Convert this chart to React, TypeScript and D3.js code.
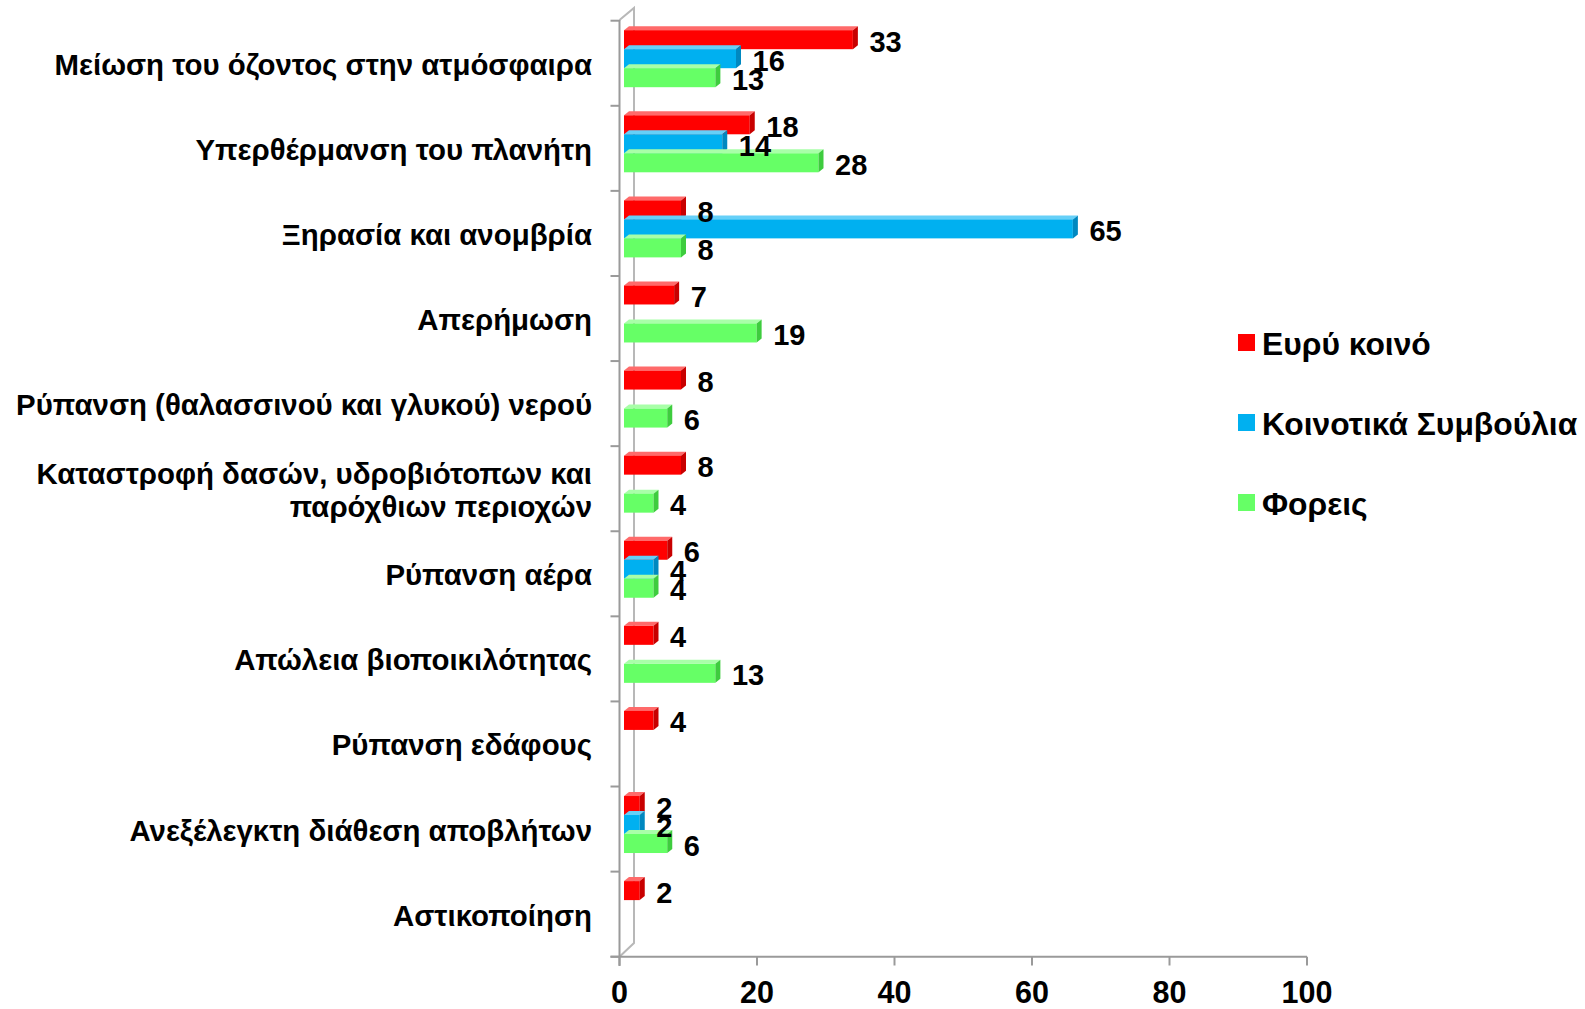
import React from "react";
import * as d3 from "d3";

const categories: string[][] = [
  ["Μείωση του όζοντος στην ατμόσφαιρα"],
  ["Υπερθέρμανση του πλανήτη"],
  ["Ξηρασία και ανομβρία"],
  ["Απερήμωση"],
  ["Ρύπανση (θαλασσινού και γλυκού) νερού"],
  ["Καταστροφή δασών, υδροβιότοπων και", "παρόχθιων περιοχών"],
  ["Ρύπανση αέρα"],
  ["Απώλεια βιοποικιλότητας"],
  ["Ρύπανση εδάφους"],
  ["Ανεξέλεγκτη διάθεση αποβλήτων"],
  ["Αστικοποίηση"],
];

const seriesNames = ["Ευρύ κοινό", "Κοινοτικά Συμβούλια", "Φορεις"];
const publicValues = [33, 18, 8, 7, 8, 8, 6, 4, 4, 2, 2];
const councilValues = [16, 14, 65, 0, 0, 0, 4, 0, 0, 2, 0];
const agencyValues = [13, 28, 8, 19, 6, 4, 4, 13, 0, 6, 0];
const xTicks = [0, 20, 40, 60, 80, 100];

const colors = ["#ff0000", "#00b0f0", "#66ff66"];
const topColors = ["#ff6a6a", "#66d0f8", "#a8ffa8"];
const sideColors = ["#c80000", "#0088c0", "#3ecc3e"];

const FONT = "'Liberation Sans', Arial, sans-serif";

export default function App() {
  const W = 1585;
  const H = 1009;
  const x = d3.scaleLinear().domain([0, 100]).range([619.5, 1307]);
  const y = d3
    .scaleBand<number>()
    .domain(d3.range(categories.length))
    .range([20.7, 956.7])
    .paddingInner(0)
    .paddingOuter(0);
  const sub = d3
    .scaleBand<number>()
    .domain([0, 1, 2])
    .range([9.5, 66.5])
    .padding(0);
  const series = [publicValues, councilValues, agencyValues];
  const dx = 5;
  const dy = -4;
  const x0 = x(0) + 4.5;

  const bars: React.ReactNode[] = [];
  const labels: React.ReactNode[] = [];
  categories.forEach((_, ci) => {
    series.forEach((vals, si) => {
      const v = vals[ci];
      if (!v) return;
      const top = (y(ci) as number) + (sub(si) as number);
      const h = sub.bandwidth();
      const x1 = x(v) + 6.5;
      bars.push(
        <g key={`b${ci}-${si}`}>
          <polygon
            points={`${x0},${top} ${x0 + dx},${top + dy} ${x1 + dx},${top + dy} ${x1},${top}`}
            fill={topColors[si]}
          />
          <rect x={x0} y={top} width={x1 - x0} height={h} fill={colors[si]} />
          <polygon
            points={`${x1},${top} ${x1 + dx},${top + dy} ${x1 + dx},${top + h + dy} ${x1},${top + h}`}
            fill={sideColors[si]}
          />
        </g>
      );
      labels.push(
        <text
          key={`l${ci}-${si}`}
          x={x(v) + 23}
          y={top + h / 2 + 2}
          dominantBaseline="central"
          fontFamily={FONT}
          fontWeight="bold"
          fontSize={29}
          fill="#000"
        >
          {v}
        </text>
      );
    });
  });

  return (
    <svg width={W} height={H} style={{ position: "absolute", left: 0, top: 0, background: "#fff" }}>
      <rect x={0} y={0} width={W} height={H} fill="#fff" />
      <path d="M619.5,20 L634,8 L634,943 L619.5,956.7" fill="none" stroke="#b8b8b8" strokeWidth={2} />
      <line x1={619.5} x2={619.5} y1={20} y2={966} stroke="#9a9a9a" strokeWidth={2} />
      {d3.range(categories.length + 1).map((i) => {
        const yy = i < categories.length ? (y(i) as number) : y.range()[1];
        return <line key={`ct${i}`} x1={610.5} x2={619.5} y1={yy} y2={yy} stroke="#9a9a9a" strokeWidth={2} />;
      })}
      <line x1={610.5} x2={1307} y1={956.7} y2={956.7} stroke="#9a9a9a" strokeWidth={2} />
      {xTicks.map((t) => (
        <g key={`xt${t}`}>
          <line x1={x(t)} x2={x(t)} y1={956.7} y2={965.5} stroke="#9a9a9a" strokeWidth={2} />
          <text
            x={x(t)}
            y={1003}
            textAnchor="middle"
            fontFamily={FONT}
            fontWeight="bold"
            fontSize={30.5}
            fill="#000"
          >
            {t}
          </text>
        </g>
      ))}
      {bars}
      {labels}
      {categories.map((lines, ci) => {
        const cy = (y(ci) as number) + y.bandwidth() / 2 + 1;
        const lh = 33;
        return (
          <text
            key={`cat${ci}`}
            textAnchor="end"
            fontFamily={FONT}
            fontWeight="bold"
            fontSize={29.4}
            fill="#000"
          >
            {lines.map((ln, li) => (
              <tspan
                key={li}
                x={592}
                y={cy + (li - (lines.length - 1) / 2) * lh}
                dominantBaseline="central"
              >
                {ln}
              </tspan>
            ))}
          </text>
        );
      })}
      {seriesNames.map((name, si) => {
        const cy = 342.5 + si * 80;
        return (
          <g key={`lg${si}`}>
            <rect x={1238} y={cy - 8.5} width={17} height={17} fill={colors[si]} />
            <text
              x={1262}
              y={cy + 1}
              dominantBaseline="central"
              fontFamily={FONT}
              fontWeight="bold"
              fontSize={31.8}
              fill="#000"
            >
              {name}
            </text>
          </g>
        );
      })}
    </svg>
  );
}
